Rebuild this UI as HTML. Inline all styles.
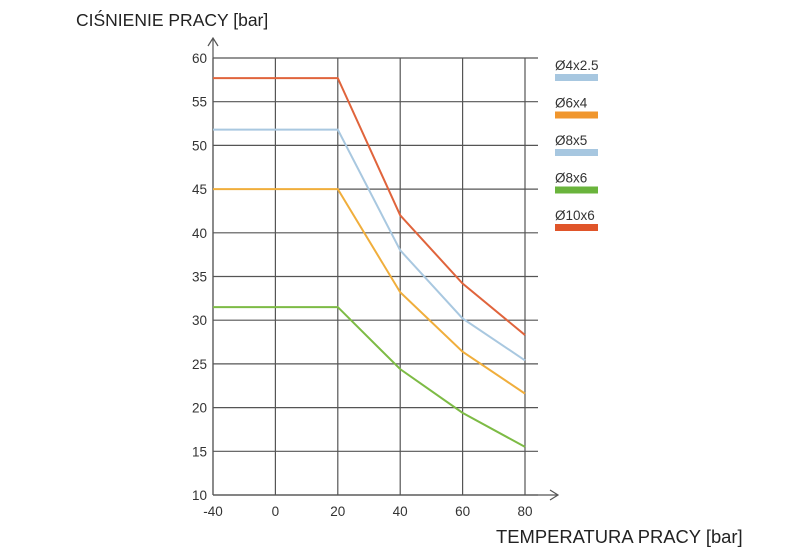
<!DOCTYPE html>
<html><head><meta charset="utf-8"><style>
body{margin:0;background:#fff;}
svg{display:block;font-family:"Liberation Sans",sans-serif;}
</style></head><body>
<svg width="787" height="551" viewBox="0 0 787 551">
<text x="76" y="26" font-size="17.5" fill="#222">CIŚNIENIE PRACY [bar]</text>
<text x="496" y="543" font-size="18.4" fill="#222">TEMPERATURA PRACY [bar]</text>
<g id="grid"></g>
<g id="series"></g>
<g id="legend"></g>
</svg>
<script>
const xCategories=[-40,0,20,40,60,80];
const yTicks=[10,15,20,25,30,35,40,45,50,55,60];
const seriesNames=["Ø4x2.5","Ø6x4","Ø8x5","Ø8x6","Ø10x6"];
const legendColors=["#a7c7e0","#f0962d","#a7c7e0","#6ab43c","#e0552a"];
const s10x6=[57.7,57.7,57.7,42,34.2,28.3];
const s8x5=[51.8,51.8,51.8,38,30.2,25.4];
const s6x4=[45,45,45,33.2,26.4,21.6];
const s8x6=[31.5,31.5,31.5,24.4,19.4,15.5];
const NS="http://www.w3.org/2000/svg";
const X0=213,X1=525,Y0=495,Y1=58;
function xs(i){return X0+(X1-X0)*i/(xCategories.length-1);}
function ys(v){return Y0-(v-10)*(Y0-Y1)/50;}
function mk(t,a,p){const e=document.createElementNS(NS,t);for(const k in a)e.setAttribute(k,a[k]);p.appendChild(e);return e;}
const g=document.getElementById('grid');
yTicks.forEach(v=>{
 const l=mk('line',{x1:X0,x2:538,y1:ys(v),y2:ys(v),stroke:'#555','stroke-width':1.2},g);
 
 
 const t=mk('text',{x:207,y:ys(v)+5,'text-anchor':'end','font-size':13.5,fill:'#333'},g);t.textContent=v;
 
 
});
xCategories.forEach((c,i)=>{
 const l=mk('line',{x1:xs(i),x2:xs(i),y1:Y1,y2:Y0,stroke:'#555','stroke-width':1.2},g);
 
 
 const t=mk('text',{x:xs(i),y:516,'text-anchor':'middle','font-size':13.5,fill:'#333'},g);t.textContent=c;
 
 
});
const ax=mk('path',{d:`M${X0} ${Y0}V38M208 46L${X0} 38L218 46M${X0} ${Y0}H558M550 490L558 ${Y0}L550 500`,stroke:'#555',fill:'none','stroke-width':1.2},g);


const sg=document.getElementById('series');
[[s8x6,'#7dbb45','series-8x6'],[s6x4,'#f0ae3c','series-6x4'],[s8x5,'#a9c8e0','series-8x5'],[s10x6,'#e0643c','series-10x6']].forEach(([d,c,n])=>{
 const p=mk('polyline',{points:d.map((v,i)=>xs(i)+','+ys(v)).join(' '),fill:'none',stroke:c,'stroke-width':2},sg);
 
 
});
const lg=document.getElementById('legend');
seriesNames.forEach((n,i)=>{
 const y=70+i*37.5;
 const t=mk('text',{x:555,y:y,'font-size':13.5,fill:'#333'},lg);t.textContent=n;
 
 
 const r=mk('rect',{x:555,y:y+4,width:43,height:7,fill:legendColors[i]},lg);
 
 
});
</script>
</body></html>
